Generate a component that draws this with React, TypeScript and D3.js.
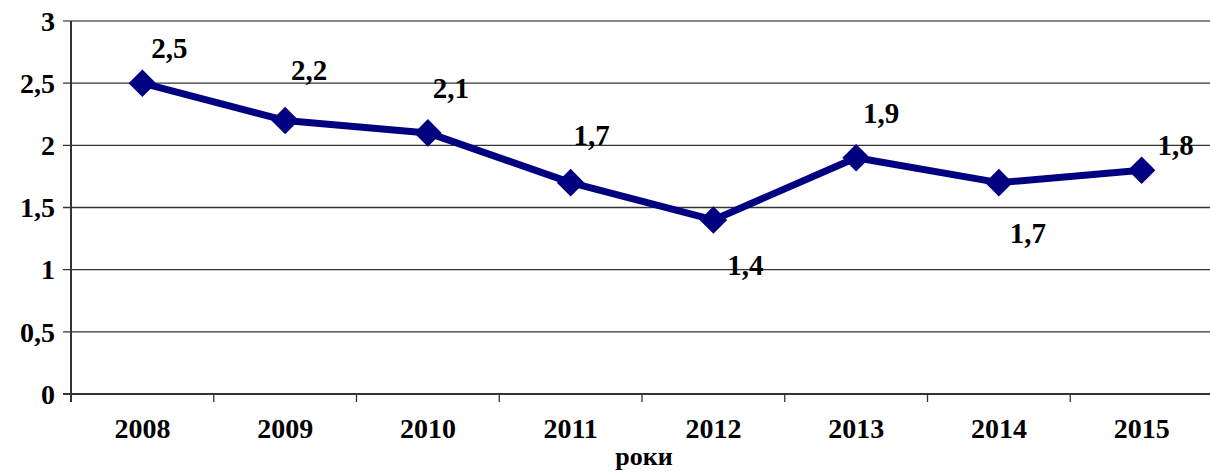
import React from "react";
import * as d3 from "d3";

const years = ["2008", "2009", "2010", "2011", "2012", "2013", "2014", "2015"];
const values = [2.5, 2.2, 2.1, 1.7, 1.4, 1.9, 1.7, 1.8];
const yTicks = [0, 0.5, 1, 1.5, 2, 2.5, 3];

const fmt = (v: number) => String(v).replace(".", ",");

// зсув підписів значень відносно точки (як у вихідній діаграмі)
const labelShift: [number, number][] = [
  [27, -25],
  [24, -40],
  [23, -35],
  [21, -38],
  [32, 55],
  [25, -35],
  [29, 60],
  [34, -15],
];

const FONT = "Liberation Serif";

const App = () => {
  const width = 1210;
  const height = 473;
  const margin = { top: 21, left: 71, bottom: 79, right: -3 };
  const innerW = width - margin.left - margin.right;
  const innerH = height - margin.top - margin.bottom;

  const x = d3.scaleBand().domain(years).range([0, innerW]);
  const y = d3.scaleLinear().domain([0, 3]).range([innerH, 0]);
  const cx = (d: string) => (x(d) ?? 0) + x.bandwidth() / 2;

  const line = d3
    .line<number>()
    .x((_, i) => cx(years[i]))
    .y((d) => y(d));

  return (
    <svg
      width={width}
      height={height}
      fontFamily={FONT}
      fontWeight="bold"
      style={{ position: "absolute", left: 0, top: 0, background: "#fff" }}
    >
      <g transform={`translate(${margin.left},${margin.top})`}>
        {/* сітка */}
        {yTicks.map((t) => (
          <g key={t}>
            <line
              x1={-8}
              x2={innerW}
              y1={y(t)}
              y2={y(t)}
              stroke={t === 3 ? "#888" : "#333"}
              strokeWidth={t === 0 || t === 3 ? 2 : 1.3}
            />
            <text x={-16} y={y(t)} dy="0.35em" textAnchor="end" fontSize={28}>
              {fmt(t)}
            </text>
          </g>
        ))}
        <line x1={0} x2={0} y1={0} y2={innerH + 8} stroke="#333" strokeWidth={2} />
        {years.slice(1).map((d) => (
          <line
            key={d}
            x1={x(d)}
            x2={x(d)}
            y1={innerH}
            y2={innerH + 8}
            stroke="#333"
            strokeWidth={1.3}
          />
        ))}
        {years.map((d) => (
          <text key={d} x={cx(d)} y={innerH + 44} textAnchor="middle" fontSize={28}>
            {d}
          </text>
        ))}

        <path
          d={line(values) ?? ""}
          fill="none"
          stroke="#000080"
          strokeWidth={7}
          strokeLinejoin="round"
        />
        {values.map((v, i) => (
          <path
            key={i}
            d={d3.symbol(d3.symbolSquare, 380)() ?? ""}
            transform={`translate(${cx(years[i])},${y(v)}) rotate(45)`}
            fill="#000080"
          />
        ))}
        {values.map((v, i) => (
          <text
            key={i}
            x={cx(years[i]) + labelShift[i][0]}
            y={y(v) + labelShift[i][1]}
            textAnchor="middle"
            fontSize={29}
          >
            {fmt(v)}
          </text>
        ))}
      </g>
      <text x={644} y={465} textAnchor="middle" fontSize={26}>
        роки
      </text>
    </svg>
  );
};

export default App;
